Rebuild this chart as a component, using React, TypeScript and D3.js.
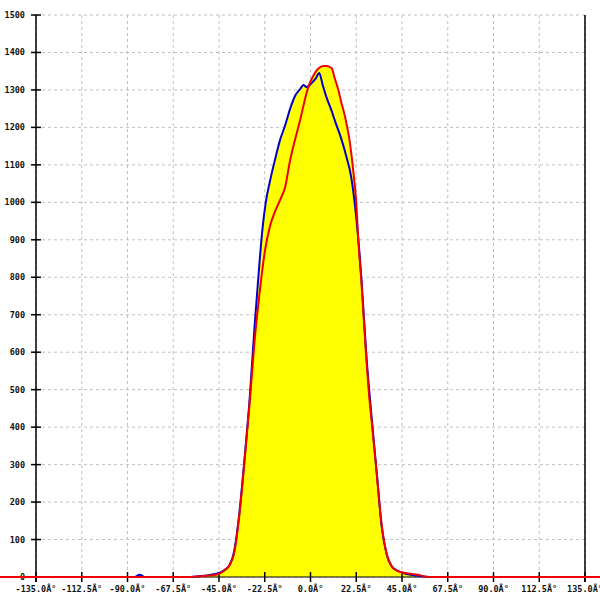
import React from "react";
import * as d3 from "d3";

const xTicks = [-135, -112.5, -90, -67.5, -45, -22.5, 0, 22.5, 45, 67.5, 90, 112.5, 135];
const yTicks = [0, 100, 200, 300, 400, 500, 600, 700, 800, 900, 1000, 1100, 1200, 1300, 1400, 1500];

const blueAngles = [-180, -90, -86.5, -84, -81.5, -60, -55, -50, -45, -42.5, -40, -37.5, -35, -32.5, -30, -27.5, -25, -23.5, -22, -20, -17.5, -15, -12.5, -10, -7.5, -5, -3.5, -2, -1, 0.5, 2.5, 4.3, 6, 8, 10, 12.5, 15, 17.5, 20, 22.5, 25, 27.5, 30, 32.5, 35, 37.5, 40, 42.5, 45, 50, 55, 60, 180];
const blueValues = [0, 0, 0, 6, 0, 0, 2, 5, 11, 18, 30, 70, 170, 313, 470, 670, 845, 935, 1000, 1055, 1113, 1166, 1205, 1250, 1285, 1303, 1313, 1308, 1310, 1318, 1330, 1345, 1313, 1278, 1250, 1210, 1172, 1125, 1068, 960, 800, 590, 430, 283, 135, 60, 28, 18, 12, 5, 2, 0, 0];

const redAngles = [-180, -60, -57, -50, -45, -42.5, -40, -37.5, -35, -32.5, -30, -27.5, -25, -22.5, -20, -17.5, -15, -12.5, -10, -8.5, -5, -2.5, -1, 2, 4, 6.3, 8, 10.4, 12, 13.7, 15, 17, 19.4, 21, 22.5, 23.5, 25, 27.5, 28.9, 30, 32.5, 35, 37.5, 40, 42.5, 45, 50, 55, 57, 180];
const redValues = [0, 0, 1, 4, 8, 17, 30, 65, 165, 305, 460, 630, 760, 868, 935, 975, 1006, 1040, 1113, 1148, 1222, 1280, 1309, 1344, 1358, 1364, 1364, 1358, 1330, 1300, 1270, 1228, 1158, 1086, 1000, 900, 790, 580, 480, 420, 280, 140, 60, 28, 17, 12, 8, 3, 0, 0];

const W = 600;
const H = 600;
const L = 36;
const R = 585;
const T = 15;
const B = 577;

export default function App() {
  const x = d3.scaleLinear().domain([-135, 135]).range([L, R]);
  const y = d3.scaleLinear().domain([0, 1500]).range([B, T]);
  const blue = blueAngles.map((a, i) => [a, blueValues[i]] as [number, number]);
  const red = redAngles.map((a, i) => [a, redValues[i]] as [number, number]);
  const line = d3
    .line<[number, number]>()
    .x((d) => x(d[0]))
    .y((d) => y(d[1]))
    .curve(d3.curveMonotoneX);
  const area = d3
    .area<[number, number]>()
    .x((d) => x(d[0]))
    .y0(y(0))
    .y1((d) => y(d[1]))
    .curve(d3.curveMonotoneX);
  const font = "'DejaVu Sans Mono', monospace";
  return (
    <svg width={W} height={H} style={{ position: "absolute", left: 0, top: 0, background: "#fff" }}>
      {yTicks.map((t) => (
        <line key={"gy" + t} x1={L} x2={R} y1={y(t)} y2={y(t)} stroke="#c0c0c0" strokeDasharray="3,3" />
      ))}
      {xTicks.map((t) => (
        <line key={"gx" + t} x1={x(t)} x2={x(t)} y1={T} y2={B} stroke="#c0c0c0" strokeDasharray="3,3" />
      ))}
      <path d={area(blue) || ""} fill="#ffff00" />
      <path d={area(red) || ""} fill="#ffff00" />
      <line x1={L} x2={L} y1={T} y2={B + 5} stroke="#000" strokeWidth={1.5} />
      <line x1={R} x2={R} y1={T} y2={B + 5} stroke="#000" strokeWidth={1.5} />
      <line x1={L} x2={R} y1={B} y2={B} stroke="#000" strokeWidth={1} />
      {yTicks.map((t) => (
        <g key={"ty" + t}>
          <line x1={L - 5} x2={L + 5} y1={y(t)} y2={y(t)} stroke="#000" strokeWidth={1.5} />
          <text x={25} y={y(t) + 3} textAnchor="end" fontFamily={font} fontSize={8.5} fontWeight="bold" fill="#111">
            {t}
          </text>
        </g>
      ))}
      {xTicks.map((t) => (
        <g key={"tx" + t}>
          <line x1={x(t)} x2={x(t)} y1={B - 5} y2={B + 5} stroke="#000" strokeWidth={1.5} />
          <text x={x(t)} y={B + 15} textAnchor="middle" fontFamily={font} fontSize={8.5} fontWeight="bold" fill="#111">
            {t.toFixed(1) + "Â°"}
          </text>
        </g>
      ))}
      <path d={line(blue) || ""} fill="none" stroke="#0000cc" strokeWidth={2} />
      <path d={line(red) || ""} fill="none" stroke="#ee0000" strokeWidth={2} />
    </svg>
  );
}
